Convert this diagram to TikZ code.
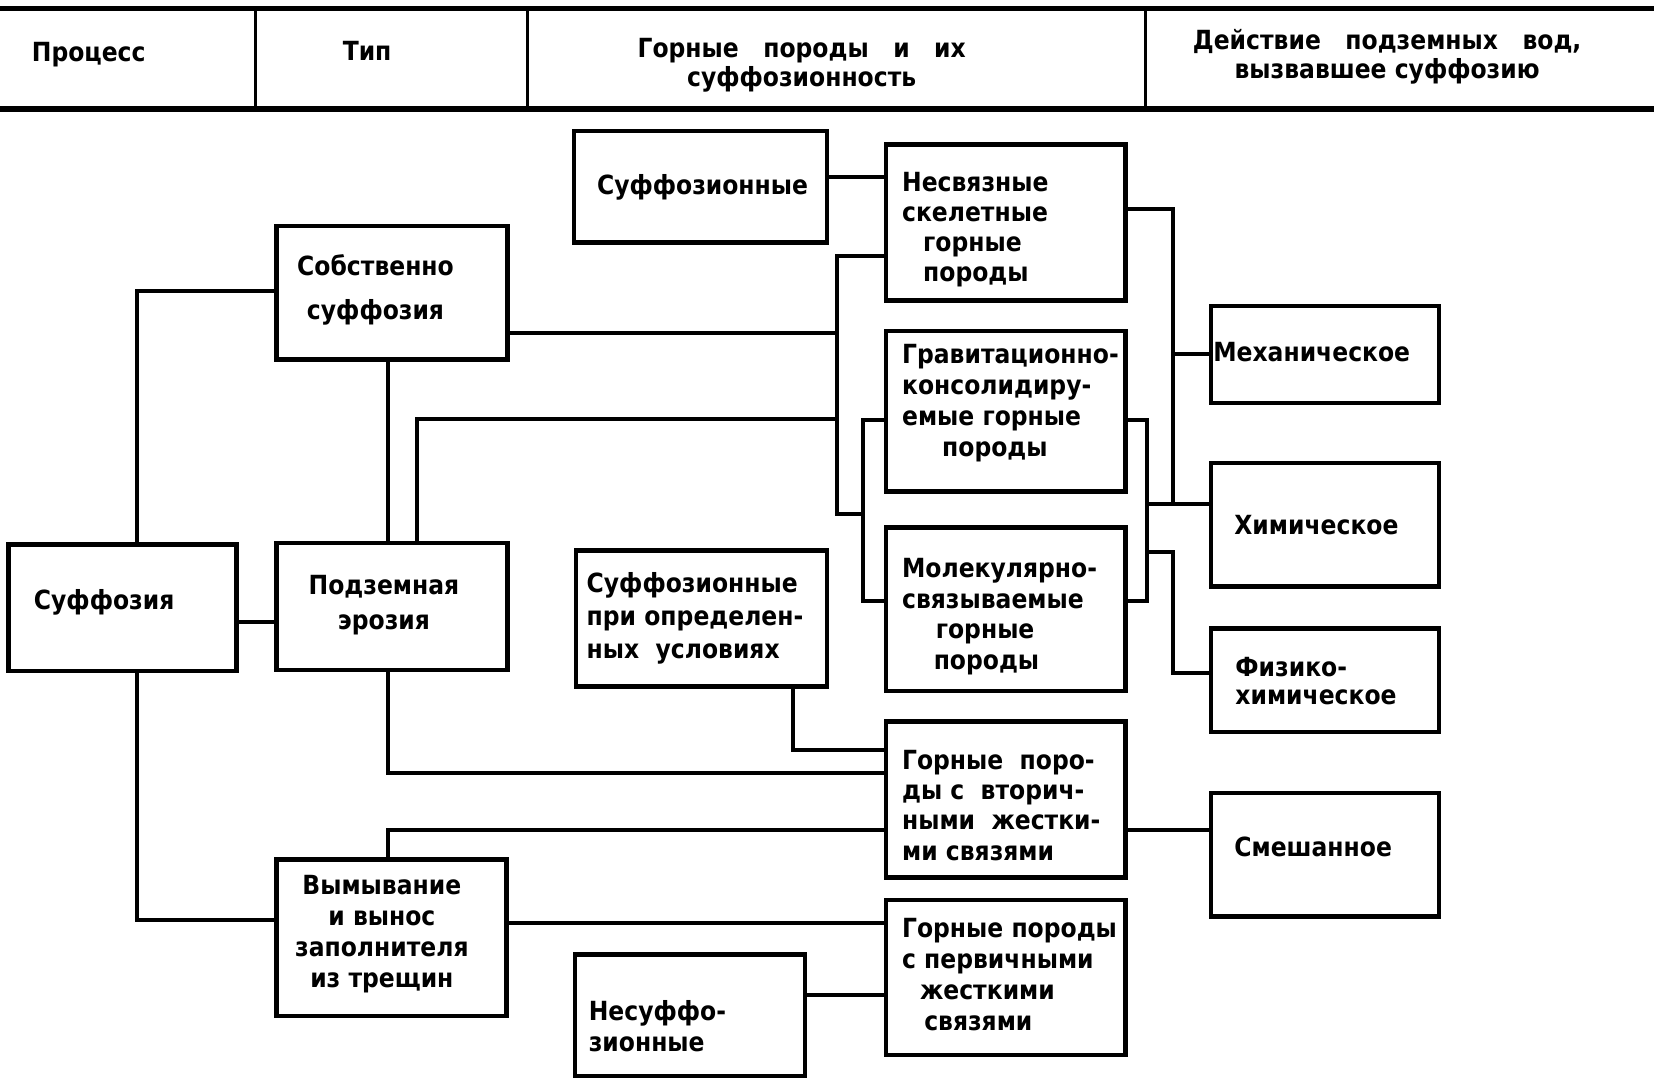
\documentclass[tikz,border=0pt]{standalone}
\usepackage{fontspec}
\setmainfont{DejaVu Sans}[FakeStretch=0.89]
\begin{document}
\begin{tikzpicture}[x=1pt,y=-1pt,
  box/.style={draw, line width=4.2pt, rectangle, inner sep=0pt},
  conn/.style={line width=3.8pt},
  hline/.style={line width=5.5pt},
  vline/.style={line width=3.2pt},
  txt/.style={font=\bfseries\fontsize{25}{29.5}\selectfont, align=left, inner sep=0pt, anchor=west},
  ctxt/.style={txt, align=center, anchor=center}]
\useasboundingbox (0,0) rectangle (1568,1024);
\fill[white] (0,0) rectangle (1568,1024);

% header
\coordinate (hl1) at (0,8);
\coordinate (hr1) at (1568,8);
\coordinate (hl2) at (0,103);
\coordinate (hr2) at (1568,103);
\draw[hline] (hl1) -- (hr1);
\draw[hline] (hl2) -- (hr2);
\coordinate (d1t) at (242,8);  \coordinate (d1b) at (242,103);
\coordinate (d2t) at (500,8);  \coordinate (d2b) at (500,103);
\coordinate (d3t) at (1086,8); \coordinate (d3b) at (1086,103);
\draw[vline] (d1t) -- (d1b);
\draw[vline] (d2t) -- (d2b);
\draw[vline] (d3t) -- (d3b);
\node[txt] (h1) at (30,52) {Процесс};
\node[ctxt] (h2) at (348,48) {Тип};
\node[ctxt, font=\bfseries\fontsize{25}{27}\selectfont] (h3) at (760,62) {Горные\ \ \ породы\ \ \ и\ \ \ их\\суффозионность};
\node[ctxt, font=\bfseries\fontsize{25}{28}\selectfont] (h4) at (1315,54) {Действие\ \ \ подземных\ \ \ вод,\\вызвавшее суффозию};

% boxes
\node[box, minimum width=216pt, minimum height=120pt] (suff) at (116,576) {};
\node[box, minimum width=219pt, minimum height=127pt] (sobst) at (371.5,277.5) {};
\node[box, minimum width=219pt, minimum height=120pt] (podz) at (371.5,575) {};
\node[box, minimum width=218pt, minimum height=148pt] (vymyv) at (371,889) {};
\node[box, minimum width=240pt, minimum height=106pt] (sufftop) at (664,177) {};
\node[box, minimum width=238pt, minimum height=129pt] (suffcond) at (665,586.5) {};
\node[box, minimum width=218pt, minimum height=115pt] (nesuff) at (654,962.5) {};
\node[box, minimum width=227pt, minimum height=148pt] (nesv) at (953.5,211) {};
\node[box, minimum width=227pt, minimum height=152pt] (grav) at (953.5,390) {};
\node[box, minimum width=227pt, minimum height=155pt] (mol) at (953.5,577.5) {};
\node[box, minimum width=227pt, minimum height=148pt] (vtor) at (953.5,758) {};
\node[box, minimum width=227pt, minimum height=147pt] (perv) at (953.5,926.5) {};
\node[box, minimum width=216pt, minimum height=92pt] (mech) at (1256,336) {};
\node[box, minimum width=216pt, minimum height=117pt] (chem) at (1256,497.5) {};
\node[box, minimum width=216pt, minimum height=98pt] (phys) at (1256,645) {};
\node[box, minimum width=216pt, minimum height=117pt] (mixed) at (1256,810.5) {};

% texts
\node[txt] (t-suff) at (32,571) {Суффозия};
\node[ctxt] (t-sobst) at (356,275) {Собственно\\[12pt]суффозия};
\node[ctxt] (t-podz) at (364,573.5) {Подземная\\[3.5pt]эрозия};
\node[ctxt] (t-vymyv) at (362,885.5) {Вымывание\\и вынос\\заполнителя\\из трещин};
\node[ctxt] (t-sufftop) at (666,178) {Суффозионные};
\node[txt, font=\bfseries\fontsize{25}{31}\selectfont] (t-suffcond) at (556,586) {Суффозионные\\при определен-\\ных\ \ условиях};
\node[txt] (t-nesuff) at (558,973) {Несуффо-\\зионные};
\node[txt, font=\bfseries\fontsize{25}{28.7}\selectfont] (t-nesv) at (855,217.75) {Несвязные\\скелетные\\\hspace*{20pt}горные\\\hspace*{20pt}породы};
\node[txt] (t-grav) at (855,382.25) {Гравитационно-\\консолидиру-\\емые горные\\\hspace*{38pt}породы};
\node[txt, font=\bfseries\fontsize{25}{29}\selectfont] (t-mol) at (855,584.75) {Молекулярно-\\связываемые\\\hspace*{32pt}горные\\\hspace*{30pt}породы};
\node[txt, font=\bfseries\fontsize{25}{28.7}\selectfont] (t-vtor) at (855,763.5) {Горные\ \ поро-\\ды с\ \ вторич-\\ными\ \ жестки-\\ми связями};
\node[txt] (t-perv) at (855,924) {Горные породы\\с первичными\\\hspace*{17pt}жесткими\\\hspace*{21pt}связями};
\node[txt] (t-mech) at (1150,334) {Механическое};
\node[txt] (t-chem) at (1170,498) {Химическое};
\node[txt, font=\bfseries\fontsize{25}{27}\selectfont] (t-phys) at (1171,645.5) {Физико-\\химическое};
\node[txt] (t-mixed) at (1170,803) {Смешанное};

% junction coordinates
\coordinate (c1) at (130,276);
\coordinate (c2) at (0,590);
\coordinate (c3) at (130,872);
\coordinate (c4) at (368,0);
\coordinate (b1) at (793,243);
\coordinate (b2) at (793,487);
\coordinate (s1) at (793,316);
\coordinate (p1) at (395,397);
\coordinate (ib1) at (818,398);
\coordinate (ib2) at (818,570);
\coordinate (n1) at (0,168);
\coordinate (r1) at (1112,198);
\coordinate (r2) at (1112,478);
\coordinate (q1) at (1087,398);
\coordinate (q2) at (1087,570);
\coordinate (f1) at (1112,523);
\coordinate (f2) at (1112,638);
\coordinate (v1) at (752,711);
\coordinate (v2) at (368,733);
\coordinate (v3) at (368,787);
\coordinate (w1) at (0,875);
\coordinate (w2) at (0,943);

% connectors
\draw[conn] (suff.north -| c1) |- (sobst.west |- c1);
\draw[conn] (suff.east |- c2) -- (podz.west |- c2);
\draw[conn] (suff.south -| c3) |- (vymyv.west |- c3);
\draw[conn] (sobst.south -| c4) -- (podz.north -| c4);
\draw[conn] (nesv.west |- b1) -- (b1) -- (b2) -- (b2 -| ib1);
\draw[conn] (grav.west |- ib1) -- (ib1) -- (ib2) -- (mol.west |- ib2);
\draw[conn] (sobst.east |- s1) -- (s1);
\draw[conn] (podz.north -| p1) -- (p1) -- (p1 -| b1);
\draw[conn] (sufftop.east |- n1) -- (nesv.west |- n1);
\draw[conn] (nesv.east |- r1) -- (r1) -- (r2);
\draw[conn] (r1 |- mech.west) -- (mech.west);
\draw[conn] (grav.east |- q1) -- (q1) -- (q2) -- (mol.east |- q2);
\draw[conn] (q1 |- r2) -- (chem.west |- r2);
\draw[conn] (q1 |- f1) -- (f1) -- (f2) -- (phys.west |- f2);
\draw[conn] (suffcond.south -| v1) -- (v1) -- (vtor.west |- v1);
\draw[conn] (podz.south -| v2) -- (v2) -- (vtor.west |- v2);
\draw[conn] (vymyv.north -| v3) -- (v3) -- (vtor.west |- v3);
\draw[conn] (vtor.east |- v3) -- (mixed.west |- v3);
\draw[conn] (vymyv.east |- w1) -- (perv.west |- w1);
\draw[conn] (nesuff.east |- w2) -- (perv.west |- w2);
\end{tikzpicture}
\end{document}
